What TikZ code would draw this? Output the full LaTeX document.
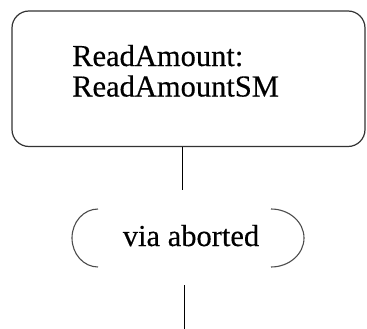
\documentclass[tikz,border=0pt]{standalone}
\usepackage{fontspec}
\setmainfont{Liberation Serif}
\newfontfamily\lblfont[FakeBold=0.35]{Liberation Serif}
\begin{document}
\begin{tikzpicture}[x=1pt,y=-1pt,
  statebox/.style={draw=black!80,line width=1.2pt,rounded corners=17pt},
  lbl/.style={font=\lblfont\fontsize{30.5}{30.5}\selectfont,text=black,inner sep=0pt},
  conn/.style={draw=black,line width=1pt},
  paren/.style={draw=black!70,line width=1.1pt}]
\useasboundingbox (0,0) rectangle (367,329);
\draw[statebox] (12,11) rectangle (365,146.5);
\node[lbl,anchor=base west,align=left] (sm) at (72,96.5) {ReadAmount:\\ReadAmountSM};
\coordinate (boxbot) at (182,146.5);
\coordinate (c1) at (182,190);
\draw[conn] (boxbot) -- (c1);
\node[lbl,anchor=base] (via) at (191,246) {via aborted};
\draw[paren] (98,209) arc[start angle=-90,end angle=-270,x radius=26,y radius=29];
\draw[paren] (271,209) arc[start angle=-90,end angle=90,x radius=33,y radius=29];
\coordinate (c2) at (184,285);
\coordinate (c3) at (184,329);
\draw[conn] (c2) -- (c3);
\end{tikzpicture}
\end{document}
